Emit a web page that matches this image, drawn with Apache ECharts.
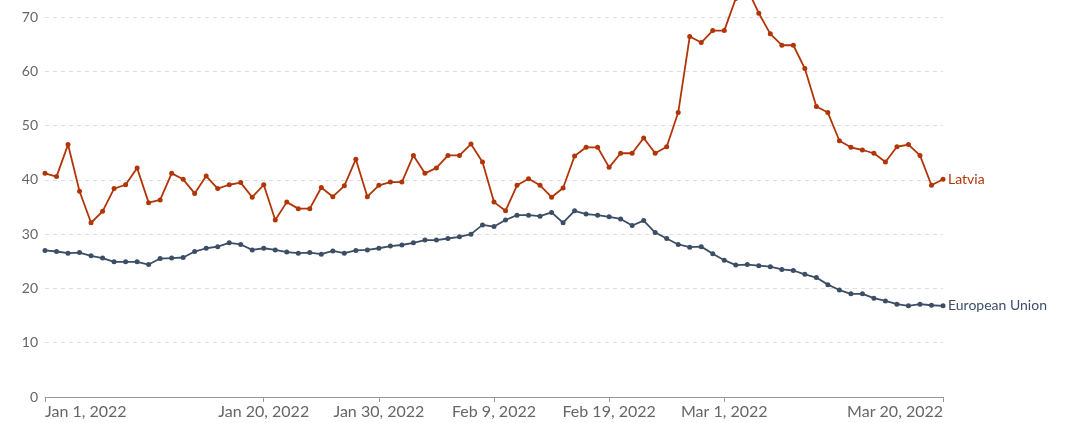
<!DOCTYPE html>
<html>
<head>
<meta charset="utf-8">
<script src="https://cdn.jsdelivr.net/npm/echarts@6/dist/echarts.min.js"></script>
<style>
  html, body { margin: 0; padding: 0; background: #fff; }
  #main { width: 1066px; height: 423px; }
</style>
</head>
<body>
<div id="main"></div>
<script>
// daily values, Jan 1 – Mar 20, 2022
var latvia = [
  41.2, 40.6, 46.5, 37.9, 32.1, 34.2, 38.4, 39.1, 42.2, 35.8,
  36.3, 41.2, 40.1, 37.5, 40.7, 38.4, 39.1, 39.5, 36.8, 39.1,
  32.6, 35.9, 34.7, 34.7, 38.6, 36.9, 38.9, 43.8, 36.9, 39.0,
  39.6, 39.6, 44.5, 41.2, 42.2, 44.5, 44.5, 46.6, 43.3, 35.9,
  34.3, 39.0, 40.2, 39.0, 36.8, 38.5, 44.4, 46.0, 46.0, 42.3,
  44.9, 44.9, 47.7, 44.9, 46.1, 52.4, 66.4, 65.3, 67.5, 67.5,
  73.4, 75.2, 70.7, 66.9, 64.8, 64.8, 60.5, 53.5, 52.4, 47.2,
  46.0, 45.5, 44.9, 43.3, 46.1, 46.5, 44.5, 39.0, 40.1
];
var eu = [
  27.0, 26.8, 26.5, 26.6, 26.0, 25.6, 24.9, 24.9, 24.9, 24.4,
  25.5, 25.6, 25.7, 26.8, 27.4, 27.7, 28.4, 28.1, 27.1, 27.4,
  27.1, 26.7, 26.5, 26.6, 26.3, 26.9, 26.5, 27.0, 27.1, 27.4,
  27.8, 28.0, 28.4, 28.9, 28.9, 29.2, 29.5, 30.0, 31.7, 31.4,
  32.6, 33.5, 33.5, 33.3, 34.0, 32.1, 34.3, 33.7, 33.5, 33.2,
  32.8, 31.6, 32.5, 30.3, 29.2, 28.1, 27.6, 27.7, 26.4, 25.2,
  24.3, 24.4, 24.2, 24.0, 23.5, 23.3, 22.6, 22.0, 20.7, 19.7,
  19.0, 19.0, 18.2, 17.7, 17.1, 16.8, 17.1, 16.9, 16.8
];
var tickIdx = [0, 19, 29, 39, 49, 59, 78];
var tickLabels = ['Jan 1, 2022', 'Jan 20, 2022', 'Jan 30, 2022', 'Feb 9, 2022', 'Feb 19, 2022', 'Mar 1, 2022', 'Mar 20, 2022'];

var days = [];
for (var i = 0; i < latvia.length; i++) {
  var d = new Date(Date.UTC(2022, 0, 1 + i));
  days.push(d.toISOString().slice(0, 10));
}

var red = '#b13507';
var blue = '#3c4e66';

var chart = echarts.init(document.getElementById('main'));
chart.setOption({
  animation: false,
  textStyle: { fontFamily: 'Lato' },
  grid: { left: 45, right: 123, top: 17, bottom: 26, containLabel: false },
  xAxis: {
    type: 'category',
    data: days,
    boundaryGap: false,
    axisLine: { lineStyle: { color: '#999', width: 1 } },
    axisTick: {
      length: 5,
      lineStyle: { color: '#999' },
      interval: function (idx) { return tickIdx.indexOf(idx) >= 0; }
    },
    axisLabel: {
      interval: function (idx) { return tickIdx.indexOf(idx) >= 0; },
      formatter: function (v, idx) { return tickLabels[tickIdx.indexOf(idx)]; },
      color: '#666',
      fontSize: 16,
      margin: 7,
      alignMinLabel: 'left',
      alignMaxLabel: 'right'
    },
    splitLine: { show: false }
  },
  yAxis: {
    type: 'value',
    min: 0,
    max: 70,
    interval: 10,
    axisLine: { show: false },
    axisTick: { show: false },
    axisLabel: { color: '#666', fontSize: 14, margin: 7 },
    splitLine: { lineStyle: { color: '#ddd', type: [4, 4], width: 1 } }
  },
  series: [
    {
      name: 'Latvia',
      type: 'line',
      data: latvia,
      clip: false,
      symbol: 'circle',
      symbolSize: 5,
      color: red,
      lineStyle: { width: 1.8, color: red },
      itemStyle: { color: red },
      endLabel: { show: true, formatter: '{a}', color: red, fontSize: 14, distance: 5 }
    },
    {
      name: 'European Union',
      type: 'line',
      data: eu,
      clip: false,
      symbol: 'circle',
      symbolSize: 5,
      color: blue,
      lineStyle: { width: 1.8, color: blue },
      itemStyle: { color: blue },
      endLabel: { show: true, formatter: '{a}', color: blue, fontSize: 14, distance: 5 }
    }
  ]
});
</script>
</body>
</html>
